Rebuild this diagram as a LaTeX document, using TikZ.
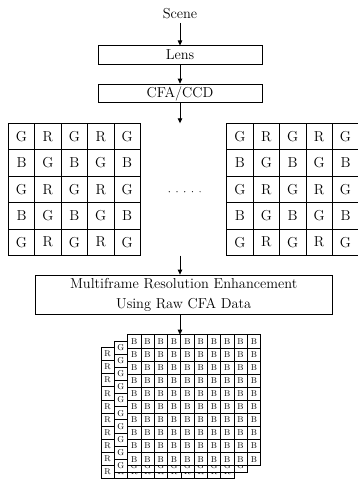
\documentclass[tikz,border=0pt]{standalone}
\usetikzlibrary{arrows.meta}
\begin{document}
\begin{tikzpicture}[x=1pt,y=-1pt]
\tikzset{
  lbl/.style={font=\fontsize{14.4}{20}\selectfont},
  stagebox/.style={draw, line width=0.8pt, inner sep=0pt, lbl},
  bigcell/.style={draw, line width=0.8pt, minimum size=26.4pt, inner sep=0pt, lbl},
  smallcell/.style={draw, fill=white, line width=0.6pt, minimum width=13.3pt,
                    minimum height=13.1pt, inner sep=0pt,
                    font=\fontsize{8.5}{10}\selectfont},
  flow/.style={line width=0.8pt, -{Triangle[length=5pt,width=4.5pt]}},
}
\useasboundingbox (0,0) rectangle (357,483);

% imaging pipeline
\node[lbl] (scene) at (180,14) {Scene};
\node[stagebox, minimum width=164pt, minimum height=18.3pt] (lens) at (180,55) {Lens};
\node[stagebox, minimum width=164pt, minimum height=18.7pt] (cfa) at (180,93.4) {CFA/CCD};
\draw[flow] (scene) -- (lens);
\draw[flow] (lens) -- (cfa);

% two Bayer-pattern frames
\foreach \ox/\nm in {8.3/F1, 226.7/F2}{
  \foreach \r in {0,...,4}{
    \foreach \c in {0,...,4}{
      \pgfmathtruncatemacro{\rp}{mod(\r,2)}
      \pgfmathtruncatemacro{\cp}{mod(\c,2)}
      \ifnum\rp=0
        \ifnum\cp=0 \def\ch{G}\else \def\ch{R}\fi
      \else
        \ifnum\cp=0 \def\ch{B}\else \def\ch{G}\fi
      \fi
      \node[bigcell] (\nm-\r-\c) at (\ox+13.2+26.4*\c, 136.5+26.4*\r) {\ch};
    }
  }
}
\foreach \i in {0,...,4}
  \fill (169.3+7.7*\i,191.7) circle (0.6pt);

\coordinate (framestop) at (180,123.3);
\coordinate (framesbot) at (180,255.7);
\draw[flow] (cfa) -- (framestop);

% reconstruction stage
\node[stagebox, align=center, minimum width=297pt, minimum height=39pt] (mre)
  at (183.7,294.5) {Multiframe Resolution Enhancement\\Using Raw CFA Data};
\draw[flow] (framesbot) -- (mre.north -| framesbot);

% stacked full-resolution colour planes; the back planes only carry
% letters in their exposed left column and bottom row
\foreach \ox/\oy/\ch/\full in {101/347.4/R/0, 114.2/341.1/G/0, 127.5/334.7/B/1}{
  \foreach \r in {0,...,9}{
    \foreach \c in {0,...,9}{
      \ifnum\full=1 \def\txt{\ch}
      \else
        \ifnum\c=0 \def\txt{\ch}
        \else \ifnum\r=9 \def\txt{\ch}\else \def\txt{}\fi
        \fi
      \fi
      \node[smallcell] (\ch-\r-\c) at (\ox+6.65+13.3*\c, \oy+6.55+13.1*\r) {\txt};
    }
  }
}
\coordinate (stacktop) at (180,334.7);
\draw[flow] (mre.south -| stacktop) -- (stacktop);
\end{tikzpicture}
\end{document}
